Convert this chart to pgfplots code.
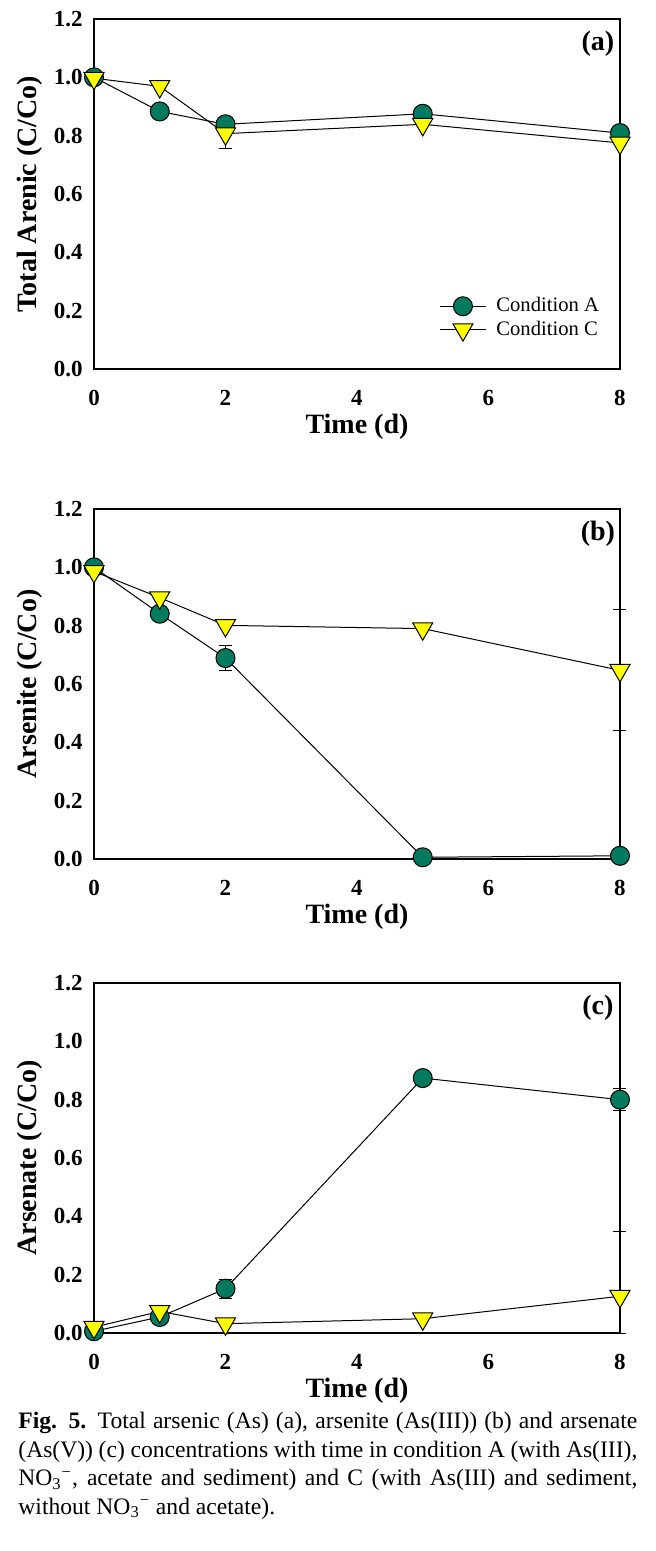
\documentclass[border=0pt]{standalone}
\usepackage{fontspec}
\setmainfont{Liberation Serif}
\usepackage{pgfplots}
\pgfplotsset{compat=1.18}
\definecolor{cA}{RGB}{0,122,94}
\definecolor{cC}{RGB}{255,255,0}
\pgfplotsset{
  panel/.style={
    scale only axis, width=263pt, height=175pt,
    xmin=0, xmax=8, ymin=0, ymax=1.2,
    xtick={0,2,4,6,8}, ytick={0,0.2,0.4,0.6,0.8,1.0,1.2},
    major tick length=0pt,
    axis line style={line width=0.6pt},
    /pgf/number format/assume math mode=true,
    yticklabel style={/pgf/number format/fixed, /pgf/number format/fixed zerofill, /pgf/number format/precision=1, anchor=east, xshift=-2.2pt},
    xticklabel style={anchor=base, yshift=-18pt},
    ticklabel style={font=\bfseries\fontsize{11.5}{12}\selectfont},
    clip=false,
    xlabel={Time (d)},
    every axis x label/.style={at={(axis description cs:0.5,-0.166)}, anchor=center, font=\bfseries\fontsize{14}{16}\selectfont},
    every axis y label/.style={at={(axis description cs:-0.122,0.5)}, rotate=90, anchor=center, font=\bfseries\fontsize{14}{16}\selectfont},
    legend image code/.code={\draw[mark repeat=2,mark phase=2] plot coordinates {(0pt,0pt) (11.5pt,0pt) (23pt,0pt)};},
  },
  serA/.style={black, line width=0.5pt, mark=*, mark size=4.75pt, mark options={fill=cA, draw=black, line width=0.5pt}},
  serC/.style={black, line width=0.5pt, mark=triangle*, mark size=5.8pt, mark options={fill=cC, draw=black, line width=0.5pt, rotate=180}},
  errs/.style={draw=none, mark=none, forget plot, error bars/.cd, y dir=both, y explicit, error bar style={draw=black, line width=0.5pt, solid}, error mark options={draw=black, rotate=90, mark size=3.25pt, line width=0.5pt}},
}
\begin{document}
\begin{tikzpicture}
\path[use as bounding box] (0pt,0pt) rectangle (328pt,-775.5pt);
% ---------------- (a)
\begin{axis}[panel, at={(47pt,-184.5pt)}, anchor=south west,
  ylabel={Total Arenic (C/Co)},
  legend style={draw=none, fill=none, at={(axis description cs:0.656,0.146)}, anchor=west, inner sep=0pt, font=\fontsize{10.3}{12}\selectfont, row sep=-1pt, /tikz/every odd column/.style={column sep=3pt}},
  legend cell align=left]
\addplot[serA] coordinates {(0,1.00) (1,0.883) (2,0.839) (5,0.875) (8,0.809)};
\addlegendentry{Condition A}
\addplot[serC] coordinates {(0,0.997) (1,0.969) (2,0.807) (5,0.839) (8,0.775)};
\addlegendentry{Condition C}
\addplot[errs] coordinates {(2,0.839) +- (0,0.02) (2,0.807) +- (0,0.05)};
\node[font=\bfseries\fontsize{14}{16}\selectfont] at (axis description cs:0.958,0.929) {(a)};
\end{axis}
% ---------------- (b)
\begin{axis}[panel, at={(47pt,-429.5pt)}, anchor=south west,
  ylabel={Arsenite (C/Co)}]
\addplot[serA] coordinates {(0,1.00) (1,0.841) (2,0.689) (5,0.006) (8,0.011)};
\addplot[serC] coordinates {(0,0.986) (1,0.896) (2,0.801) (5,0.790) (8,0.647)};
\addplot[errs] coordinates {(2,0.689) +- (0,0.043) (8,0.647) +- (0,0.208)};
\node[font=\bfseries\fontsize{14}{16}\selectfont] at (axis description cs:0.958,0.929) {(b)};
\end{axis}
% ---------------- (c)
\begin{axis}[panel, at={(47pt,-666.5pt)}, anchor=south west,
  ylabel={Arsenate (C/Co)}]
\addplot[serA] coordinates {(0,0.006) (1,0.055) (2,0.152) (5,0.874) (8,0.800)};
\addplot[serC] coordinates {(0,0.020) (1,0.074) (2,0.032) (5,0.049) (8,0.126)};
\addplot[errs] coordinates {(2,0.152) +- (0,0.033) (8,0.800) +- (0,0.037) (8,0.126) += (0,0.222) -= (0,0.126)};
\node[font=\bfseries\fontsize{14}{16}\selectfont] at (axis description cs:0.958,0.929) {(c)};
\end{axis}
% ---------------- caption
\node[anchor=north west, inner sep=0pt, text width=309.5pt, align=justify, font=\fontsize{11.8}{14.25}\selectfont] at (9pt,-706pt)
{\textbf{Fig. 5.} Total arsenic (As) (a), arsenite (As(III)) (b) and arsenate\linebreak
(As(V)) (c) concentrations with time in condition A (with As(III),\linebreak
NO\textsubscript{3}\textsuperscript{−}, acetate and sediment) and C (with As(III) and sediment,\linebreak
without NO\textsubscript{3}\textsuperscript{−} and acetate).};
\end{tikzpicture}
\end{document}
